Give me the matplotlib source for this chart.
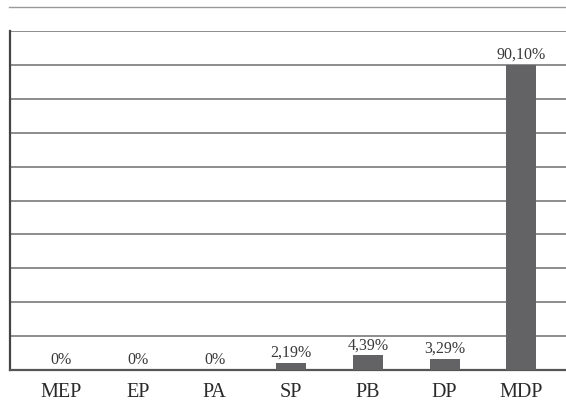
import matplotlib
matplotlib.use("Agg")
import matplotlib.pyplot as plt
from matplotlib.lines import Line2D

categories = ["MEP", "EP", "PA", "SP", "PB", "DP", "MDP"]
values = [0.0, 0.0, 0.0, 2.19, 4.39, 3.29, 90.10]
value_labels = ["0%", "0%", "0%", "2,19%", "4,39%", "3,29%", "90,10%"]

plt.rcParams["font.family"] = ["Liberation Serif", "DejaVu Serif"]

W, H = 566, 414
fig = plt.figure(figsize=(W / 100, H / 100), dpi=100)
fig.patch.set_facecolor("white")

# plot area in pixel coordinates
left, right, top, bottom = 10, 572, 32, 371
ax = fig.add_axes([left / W, 1 - bottom / H, (right - left) / W, (bottom - top) / H])

x = range(len(categories))
ax.bar(x, values, width=0.39, color="#636366", zorder=3)

ax.set_ylim(0, 100)
ax.set_xlim(-0.667, 6.66)
ax.set_yticks(range(0, 101, 10))
ax.yaxis.grid(True, color="#6e6e6e", linewidth=1.1, zorder=0)
ax.tick_params(axis="y", left=False, labelleft=False)
ax.set_xticks(list(x))
ax.set_xticklabels(categories, fontsize=14.5, color="#2a2a2a")
ax.tick_params(axis="x", length=0, pad=9)

for s in ["top", "right"]:
    ax.spines[s].set_visible(False)
ax.spines["left"].set_color("#444444")
ax.spines["left"].set_linewidth(1.6)
ax.spines["bottom"].set_color("#555555")
ax.spines["bottom"].set_linewidth(1.6)

for xi, v, lab in zip(x, values, value_labels):
    ax.annotate(lab, (xi, v), xytext=(0, 2), textcoords="offset points",
                ha="center", va="bottom", fontsize=11.5, color="#3a3a3a")

# thin rule above the chart
fig.add_artist(Line2D([9 / W, 1], [1 - 8 / H, 1 - 8 / H], color="#9a9a9a",
                      linewidth=1.0, transform=fig.transFigure))

fig.savefig("out.png", dpi=100, facecolor="white")
